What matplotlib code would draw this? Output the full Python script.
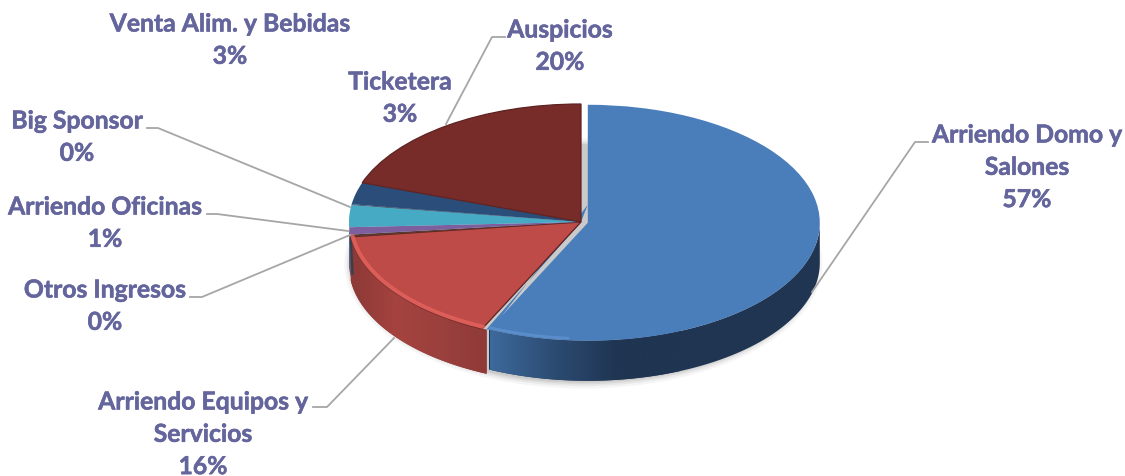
"""
Ingresos por concepto: pie chart drawn with a fake 3D look.
"""

import numpy as np
import matplotlib.pyplot as plt
import matplotlib.patheffects as pe
from matplotlib.colors import LinearSegmentedColormap
from matplotlib.lines import Line2D
from matplotlib.patches import Ellipse, Polygon

# Slice order follows the pie, clockwise from 12 o'clock
labels = ['Arriendo Domo y\nSalones', 'Arriendo Equipos y\nServicios', 'Otros Ingresos',
          'Arriendo Oficinas', 'Venta Alim. y Bebidas', 'Big Sponsor', 'Ticketera', 'Auspicios']
values = [57, 16, 0.3, 1, 3, 0.1, 3, 19.6]
colors = ['#4a7ebb', '#be4b48', '#5a3a30', '#7d5fa0', '#46aac5', '#1c3550', '#2a4d7a', '#772c2a']
side_colors = ['#1f3552', '#8f3a38', '#3a2a28', '#4d3a66', '#2b6f82', '#1c3550', '#1c3550', '#4d1c1b']

W, H = 1125, 476
CX, CY = 581, 222      # pie centre in pixels
RX, RY = 232, 118      # pie radii in pixels
DEPTH = 40 / RY
RED_DEPTH = 44 / RY

TEXT_COLOR = '#64659c'
LEADER_COLOR = '#a6a6a6'

# label centre (x, y of first line) in pixels, then leader line points
label_pos = [(1027, 135), (203, 402), (105, 290), (105, 207), (230, 24), (77, 121), (400, 82), (560, 30)]
leaders = [
    [(928, 142), (915, 142), (812, 292)],
    [(313, 407), (327, 407), (394, 338)],
    [(190, 297), (202, 297), (350, 235)],
    [(207, 214), (217, 214), (348, 231)],
    [(147, 128), (158, 128), (350, 207)],
    [(505, 37), (492, 37), (446, 124)],
]

plt.rcParams['font.family'] = ['Lato', 'DejaVu Sans']

fig = plt.figure(figsize=(W / 100, H / 100), dpi=100)
ax = fig.add_axes([0, 0, 1, 1])

explode = [0.03] + [0] * (len(values) - 1)
wedges, _ = ax.pie(values, colors=colors, startangle=90, counterclock=False, explode=explode,
                   wedgeprops={'linewidth': 0})
wedges = list(wedges)
for w in wedges:
    w.set_zorder(5)

xlim = (-CX / RX, (W - CX) / RX)
ylim = ((CY - H) / RY, CY / RY)

# soft shadow under the pie
for grow, alpha in zip([0.03, 0.02, 0.012, 0.005], [0.04, 0.05, 0.06, 0.07]):
    ax.add_patch(Ellipse((0.01, -DEPTH - 0.012), 2 + grow * 2, 2 + grow * 4, color='#000000',
                         alpha=alpha, lw=0, zorder=1))


def front_arc(wedge):
    # visible (lower) part of the rim, in degrees
    t1, t2 = sorted((wedge.theta1, wedge.theta2))
    t1, t2 = max(t1, -180), min(t2, 0)
    if t2 <= t1:
        t1, t2 = t1 + 360, t2 + 360
        t1, t2 = max(t1, 180), min(t2, 360)
    if t2 <= t1:
        return None
    return np.radians(np.linspace(t1, t2, 120))


blue_cmap = LinearSegmentedColormap.from_list('blue_side', ['#3d6a9c', '#2c4c73', '#1f3552', '#1f3552'])
red_cmap = LinearSegmentedColormap.from_list('red_side', ['#8c3937', '#a5433f', '#9a403d', '#8e3a37'])
gradients = {0: (blue_cmap, 490, 680), 1: (red_cmap, 350, 490)}

for i, w in enumerate(wedges):
    arc = front_arc(w)
    if arc is None:
        continue
    if i == 1:
        # red side runs on a little under the blue slice
        arc = np.linspace(arc[0], arc[-1] + np.radians(1.2), 120)
    cx, cy = w.center
    top = np.column_stack([cx + np.cos(arc), cy + np.sin(arc)])
    bottom = top[::-1] + [0, -(RED_DEPTH if i == 1 else DEPTH)]
    side = Polygon(np.vstack([top, bottom]), closed=True, facecolor=side_colors[i], lw=0, zorder=3)
    ax.add_patch(side)
    if i in gradients:
        cmap, x0, x1 = gradients[i]
        grad = np.linspace(0, 1, 256).reshape(1, -1)
        img = ax.imshow(grad, cmap=cmap, aspect='auto', zorder=3.5,
                        extent=((x0 - CX) / RX, (x1 - CX) / RX, -3, 3))
        img.set_clip_path(side)

# close the gap along the blue cut edge, only the upper end stays open
blue = wedges[0]
t = np.radians(blue.theta1)
tip = (blue.center[0] + np.cos(t), blue.center[1] + np.sin(t))
ax.add_patch(Polygon([(0.0, 0.0), (blue.center[0], blue.center[1] + 18 / RY),
                      (tip[0] + 0.01, tip[1]), (tip[0] - 0.012, tip[1])],
                     closed=True, facecolor=colors[0], lw=0, zorder=4.5))

# rim highlights on the top face
for i, rim_color, lw, alpha in [(1, '#e3625d', 3.0, 0.85), (0, '#6a9bd8', 2.0, 0.55)]:
    arc = front_arc(wedges[i])
    if i == 0:
        arc = arc[:22]
    cx, cy = wedges[i].center
    ax.plot(cx + 0.992 * np.cos(arc), cy + 0.982 * np.sin(arc), color=rim_color, lw=lw,
            alpha=alpha, zorder=6, solid_capstyle='round')

# dark sliver on the far left of the side wall
ax.plot([-0.992, -0.985], [-0.14, -0.14 - 0.30], color='#35404f', lw=1.6, zorder=4, solid_capstyle='round')

# dark seam along the cut edges of the red slice and the dark red slice
for i in [1, 7]:
    wedges[i].set_edgecolor('#5e2220')
    wedges[i].set_linewidth(0.9)

ax.set_aspect('auto')
ax.set_xlim(xlim)
ax.set_ylim(ylim)
ax.axis('off')

for pts in leaders:
    xs = [p[0] / W for p in pts]
    ys = [1 - p[1] / H for p in pts]
    fig.add_artist(Line2D(xs, ys, color=LEADER_COLOR, lw=1.3, transform=fig.transFigure, zorder=2))

heavier = [pe.withStroke(linewidth=0.4, foreground=TEXT_COLOR)]
for name, value, (x, y) in zip(labels, values, label_pos):
    lines = name.split('\n') + [f'{value:.0f}%']
    for k, line in enumerate(lines):
        fig.text(x / W, 1 - (y + k * 32.3) / H, line, ha='center', va='center', color=TEXT_COLOR,
                 fontsize=17.8, fontweight='bold', path_effects=heavier)

fig.savefig('out.png', dpi=100)
plt.close(fig)
